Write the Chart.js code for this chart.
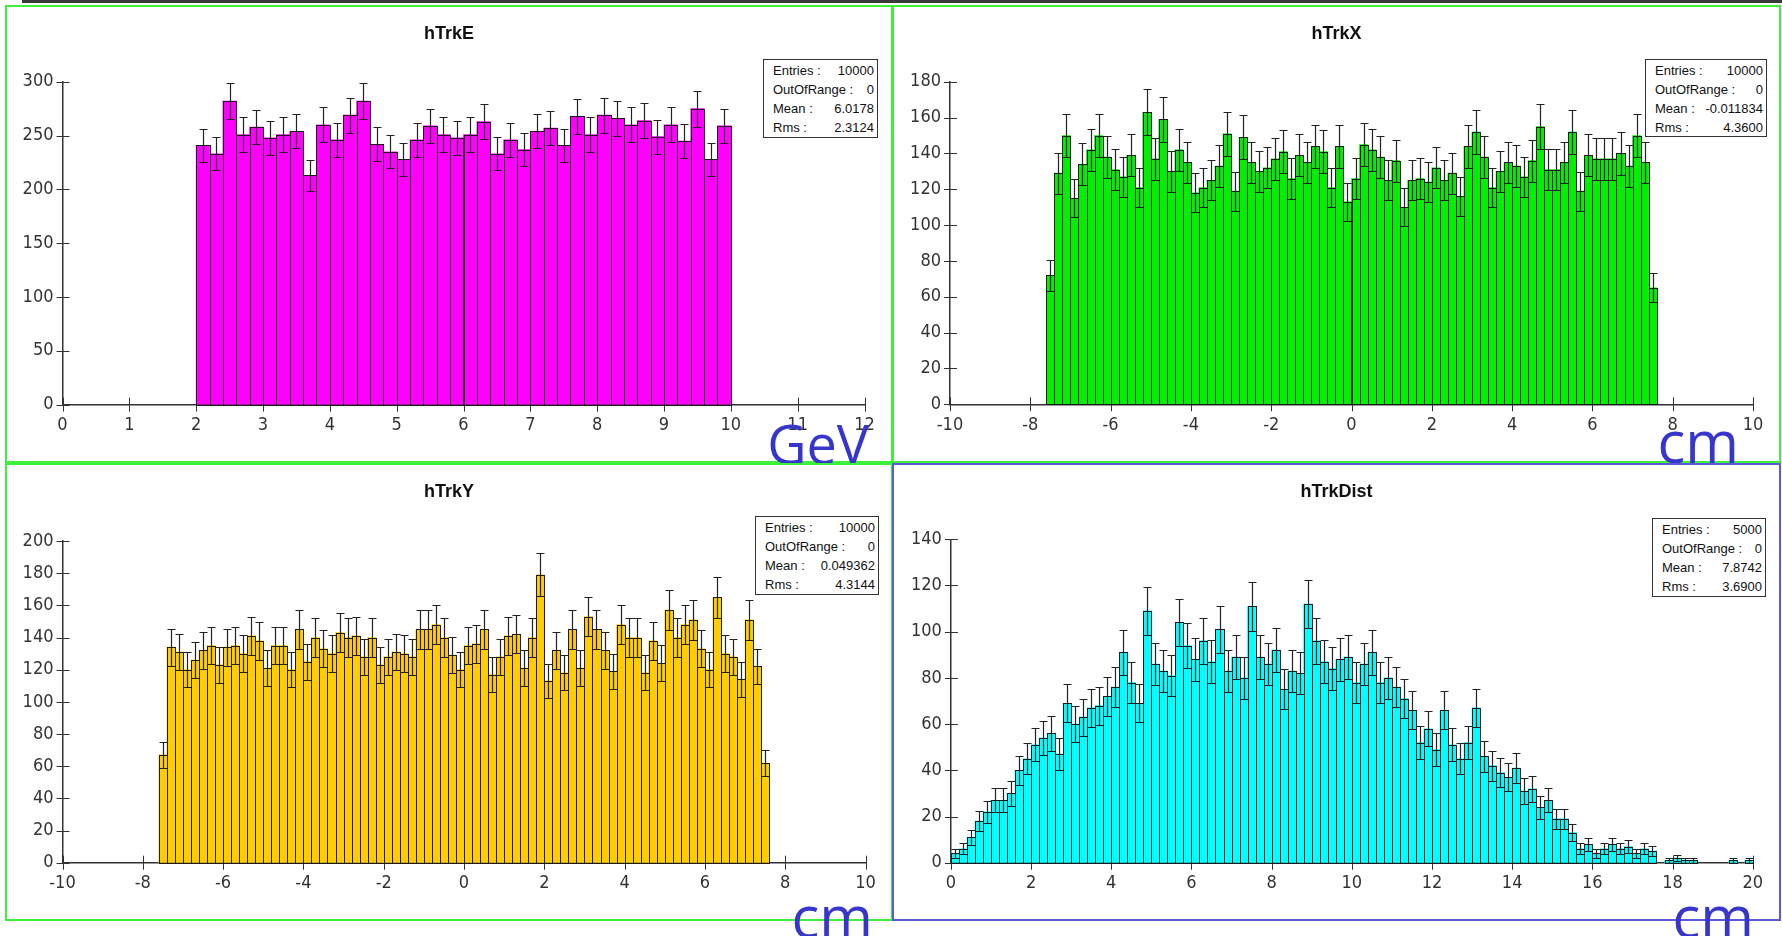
<!DOCTYPE html>
<html lang="en">
<head>
<meta charset="UTF-8">
<title>Track histograms</title>
<script src="https://cdn.jsdelivr.net/npm/chart.js"></script>
<style>
    body { margin: 0; width: 1782px; height: 936px; position: relative; overflow: hidden; background: #fff; font-family: 'Liberation Sans', Arial, sans-serif; }
    .panel { position: absolute; }
    .frame { position: absolute; box-sizing: border-box; border: 2px solid #3cf03c; pointer-events: none; }
    .frame.blue { border-color: #5a5ad8; }
    .title { position: absolute; font: bold 18px 'Liberation Sans', Arial, sans-serif; color: #111; transform: translateX(-50%); white-space: nowrap; }
    .stats { position: absolute; box-sizing: border-box; border: 1.5px solid #333; background: #fff; padding: 1px 3px 0 9px; font-size: 13px; color: #111; }
    .stats div { display: flex; justify-content: space-between; height: 19px; line-height: 19px; white-space: nowrap; }
    .unit { position: absolute; font: 58px 'Open Sans', 'Noto Sans', sans-serif; line-height: 58px; color: #3636cc; white-space: nowrap; }
    .unit.gev { font-size: 54px; }
    .topbar { position: absolute; left: 22px; top: 0; width: 1760px; height: 3px; background: #3a3a3a; }
</style>
</head>
<body>

<div class="topbar"></div>
<div id="root"></div>

<script>
// bin contents (bin width 0.2 everywhere)
const eValues = [241, 233, 282, 251, 258, 248, 251, 254, 213, 260, 246, 269, 282, 242, 235, 228, 246, 259, 251, 248,
                 251, 263, 233, 246, 237, 254, 257, 241, 268, 251, 269, 266, 260, 264, 249, 260, 245, 275, 228, 259];

const xValues = [72, 129, 150, 115, 134, 142, 150, 138, 131, 127, 139, 121, 163, 137, 159, 130, 142, 135, 118, 121,
                 125, 133, 151, 119, 149, 135, 130, 132, 137, 141, 126, 139, 135, 144, 141, 121, 144, 113,
                 126, 145, 142, 138, 125, 136, 110, 125, 126, 124, 132, 125, 129, 116, 144, 152, 138, 121, 130, 135,
                 133, 127, 136, 155, 131, 131, 135, 152, 119, 139, 137, 137, 137, 140, 133, 150, 135, 65];

const yValues = [67, 134, 131, 120, 126, 132, 135, 123, 134, 135, 130, 141, 138, 121, 135, 135, 120, 145, 125, 140,
                 133, 130, 143, 140, 141, 128, 140, 123, 128, 131, 130, 128, 145, 145, 148, 140, 129, 120,
                 135, 136, 145, 117, 128, 141, 142, 121, 140, 179, 113, 132, 118, 145, 121, 153, 145, 132, 119, 148,
                 140, 140, 118, 138, 124, 157, 140, 148, 151, 133, 120, 165, 130, 128, 114, 151, 122, 62];

const distValues = [4, 6, 11, 18, 22, 27, 27, 30, 40, 45, 51, 54, 56, 47, 69, 60, 63, 67, 68, 72,
                    76, 91, 78, 69, 109, 86, 83, 81, 104, 94, 88, 96, 87, 101, 83, 89, 80, 111, 89, 86,
                    92, 75, 83, 82, 112, 96, 87, 84, 88, 89, 78, 86, 91, 78, 80, 76, 71, 66, 52, 58,
                    49, 66, 51, 45, 52, 67, 46, 42, 39, 37, 41, 31, 32, 24, 27, 19, 19, 13, 6, 8,
                    4, 6, 8, 6, 7, 4, 6, 5, 0, 1, 2, 1, 1, 0, 0, 0, 0, 1, 0, 1];

const statLabels = ['Entries :', 'OutOfRange :', 'Mean :', 'Rms :'];
const statsE = ['10000', '0', '6.0178', '2.3124'];
const statsX = ['10000', '0', '-0.011834', '4.3600'];
const statsY = ['10000', '0', '0.049362', '4.3144'];
const statsDist = ['5000', '0', '7.8742', '3.6900'];

const tickFont = { family: "'Liberation Sans Narrow', 'DejaVu Sans Condensed', 'Liberation Sans', sans-serif", size: 18 };

const panels = [
    { title: 'hTrkE', values: eValues, binLow: 2, binWidth: 0.2, color: '#ff00ff', stats: statsE, unit: 'GeV',
      xMin: 0, xMax: 12, xStep: 1, yMax: 300, yStep: 50,
      box: [5, 5, 888, 458], area: [62.5, 81.8, 864.5, 404.6],
      statBox: [763, 59, 115, 79], unitPos: [913, 414], blue: false },
    { title: 'hTrkX', values: xValues, binLow: -7.6, binWidth: 0.2, color: '#00f000', stats: statsX, unit: 'cm',
      xMin: -10, xMax: 10, xStep: 2, yMax: 180, yStep: 20,
      box: [892, 5, 889, 458], area: [950, 81.8, 1753, 404.3],
      statBox: [1645, 59, 122, 78], unitPos: [43, 412], blue: false },
    { title: 'hTrkY', values: yValues, binLow: -7.6, binWidth: 0.2, color: '#ffcc00', stats: statsY, unit: 'cm',
      xMin: -10, xMax: 10, xStep: 2, yMax: 200, yStep: 20,
      box: [5, 463, 888, 458], area: [62.5, 541, 865.5, 862.7],
      statBox: [755, 516, 124, 79], unitPos: [909, 887], blue: false },
    { title: 'hTrkDist', values: distValues, binLow: 0, binWidth: 0.2, color: '#00ffff', stats: statsDist, unit: 'cm',
      xMin: 0, xMax: 20, xStep: 2, yMax: 140, yStep: 20,
      box: [892, 463, 889, 458], area: [950.9, 539.3, 1752.7, 862.7],
      statBox: [1652, 518, 114, 79], unitPos: [28, 887], blue: true }
];

const Y_AXIS_W = 45;
const X_AXIS_H = 34;

// outlines, error bars (sqrt N) and tick marks crossing the axes
const histPlugin = {
    id: 'hist',
    beforeDatasetsDraw(chart) {
        const ctx = chart.ctx;
        const xs = chart.scales.x, ys = chart.scales.y;
        ctx.save();
        ctx.strokeStyle = '#333';
        ctx.lineWidth = 1;
        ctx.beginPath();
        xs.ticks.forEach(t => {
            const px = Math.round(xs.getPixelForValue(t.value)) + 0.5;
            ctx.moveTo(px, xs.top - 7);
            ctx.lineTo(px, xs.top + 7);
        });
        ys.ticks.forEach(t => {
            const py = Math.round(ys.getPixelForValue(t.value)) + 0.5;
            ctx.moveTo(ys.right - 6, py);
            ctx.lineTo(ys.right + 7, py);
        });
        ctx.stroke();
        ctx.restore();
    },
    afterDatasetsDraw(chart) {
        const ctx = chart.ctx;
        const ys = chart.scales.y;
        const meta = chart.getDatasetMeta(0);
        const data = chart.data.datasets[0].data;
        ctx.save();
        ctx.strokeStyle = '#1a1a1a';
        ctx.lineWidth = 1;
        meta.data.forEach((bar, i) => {
            if (!data[i].y) return;
            const p = bar.getProps(['x', 'y', 'base', 'width'], true);
            const l = Math.round(p.x - p.width / 2) + 0.5;
            const r = Math.round(p.x + p.width / 2) + 0.5;
            const t = Math.round(p.y) + 0.5;
            const b = Math.round(p.base) + 0.5;
            ctx.strokeRect(l, t, r - l, b - t);
        });
        ctx.strokeStyle = '#222';
        ctx.lineWidth = 1.2;
        ctx.beginPath();
        meta.data.forEach((bar, i) => {
            const v = data[i].y;
            if (!v) return;
            const err = Math.sqrt(v);
            const cx = Math.round(bar.x) + 0.5;
            const hi = Math.round(ys.getPixelForValue(v + err)) + 0.5;
            const lo = Math.round(ys.getPixelForValue(v - err)) + 0.5;
            ctx.moveTo(cx, hi); ctx.lineTo(cx, lo);
            ctx.moveTo(cx - 4, hi); ctx.lineTo(cx + 4, hi);
            ctx.moveTo(cx - 4, lo); ctx.lineTo(cx + 4, lo);
        });
        ctx.stroke();
        ctx.restore();
    }
};

const root = document.getElementById('root');

panels.forEach(p => {
    const [x0, y0, w, h] = p.box;
    const [al, at, ar, ab] = p.area;

    const wrap = document.createElement('div');
    wrap.className = 'panel';
    wrap.style.cssText = `left:${x0}px;top:${y0}px;width:${w}px;height:${h}px;`;
    const canvas = document.createElement('canvas');
    wrap.appendChild(canvas);
    root.appendChild(wrap);

    const frame = document.createElement('div');
    frame.className = 'frame' + (p.blue ? ' blue' : '');
    frame.style.cssText = `left:${x0}px;top:${y0}px;width:${w}px;height:${h}px;`;

    const title = document.createElement('div');
    title.className = 'title';
    title.textContent = p.title;
    title.style.cssText = `left:${x0 + w / 2}px;top:${y0 + 18}px;`;
    root.appendChild(title);

    const [sx, sy, sw, sh] = p.statBox;
    const stats = document.createElement('div');
    stats.className = 'stats';
    stats.style.cssText = `left:${sx}px;top:${sy}px;width:${sw}px;height:${sh}px;`;
    statLabels.forEach((lab, i) => {
        const row = document.createElement('div');
        row.innerHTML = `<span>${lab}</span><span>${p.stats[i]}</span>`;
        stats.appendChild(row);
    });
    root.appendChild(stats);

    const unit = document.createElement('div');
    unit.className = 'unit' + (p.unit === 'GeV' ? ' gev' : '');
    unit.textContent = p.unit;
    unit.style.cssText = `right:${p.unitPos[0]}px;top:${p.unitPos[1]}px;`;

    // empty bins stay empty
    const points = p.values.map((v, i) => ({ x: p.binLow + (i + 0.5) * p.binWidth, y: v === 0 ? null : v }));

    new Chart(canvas, {
        type: 'bar',
        data: {
            datasets: [{
                data: points,
                backgroundColor: p.color,
                borderWidth: 0,
                barPercentage: 1,
                categoryPercentage: 1,
                grouped: false
            }]
        },
        options: {
            responsive: true,
            maintainAspectRatio: false,
            animation: false,
            events: [],
            layout: {
                padding: {
                    left: al - x0 - Y_AXIS_W,
                    top: at - y0,
                    right: x0 + w - ar,
                    bottom: y0 + h - ab - X_AXIS_H
                }
            },
            plugins: {
                legend: { display: false },
                tooltip: { enabled: false },
                title: { display: false }
            },
            scales: {
                x: {
                    type: 'linear',
                    min: p.xMin,
                    max: p.xMax,
                    offset: false,
                    grid: { display: false, drawTicks: false, offset: false },
                    border: { display: true, color: '#333', width: 1.5 },
                    ticks: { stepSize: p.xStep, font: tickFont, color: '#333', padding: 10, maxRotation: 0, autoSkip: false },
                    afterFit: s => { s.height = X_AXIS_H; }
                },
                y: {
                    type: 'linear',
                    min: 0,
                    max: p.yMax,
                    grid: { display: false, drawTicks: false },
                    border: { display: true, color: '#333', width: 1.5 },
                    ticks: { stepSize: p.yStep, font: tickFont, color: '#333', padding: 9 },
                    afterFit: s => { s.width = Y_AXIS_W; }
                }
            }
        },
        plugins: [histPlugin]
    });

    root.appendChild(frame);
    root.appendChild(unit);
});
</script>

</body>
</html>
